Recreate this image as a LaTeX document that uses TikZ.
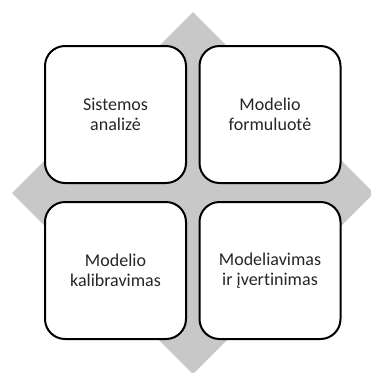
\documentclass[tikz,border=0pt]{standalone}
\usepackage{fontspec}
\setmainfont[Ligatures=NoCommon]{Carlito}
\definecolor{diamondgray}{RGB}{200,200,200}
\tikzset{
  stage/.style={draw=black, line width=2pt, fill=white, rounded corners=20pt,
    minimum width=141pt, minimum height=137pt, align=center,
    font=\fontsize{18}{20.5}\selectfont, text=black!85, inner sep=0pt}
}
\begin{document}
\begin{tikzpicture}[x=1pt,y=-1pt]
  \useasboundingbox (0,0) rectangle (371,373);
  % grey backdrop rotated square
  \fill[diamondgray] (193,12) -- (374,193) -- (193,374) -- (12,193) -- cycle;
  % the four stages
  \node[stage] (sa) at (115.5,114.5) {Sistemos\\analizė};
  \node[stage] (mf) at (270,114.5) {Modelio\\formuluotė};
  \node[stage] (mk) at (115.5,270.5) {Modelio\\kalibravimas};
  \node[stage] (mi) at (270,270.5) {Modeliavimas\\ir įvertinimas};
\end{tikzpicture}
\end{document}
